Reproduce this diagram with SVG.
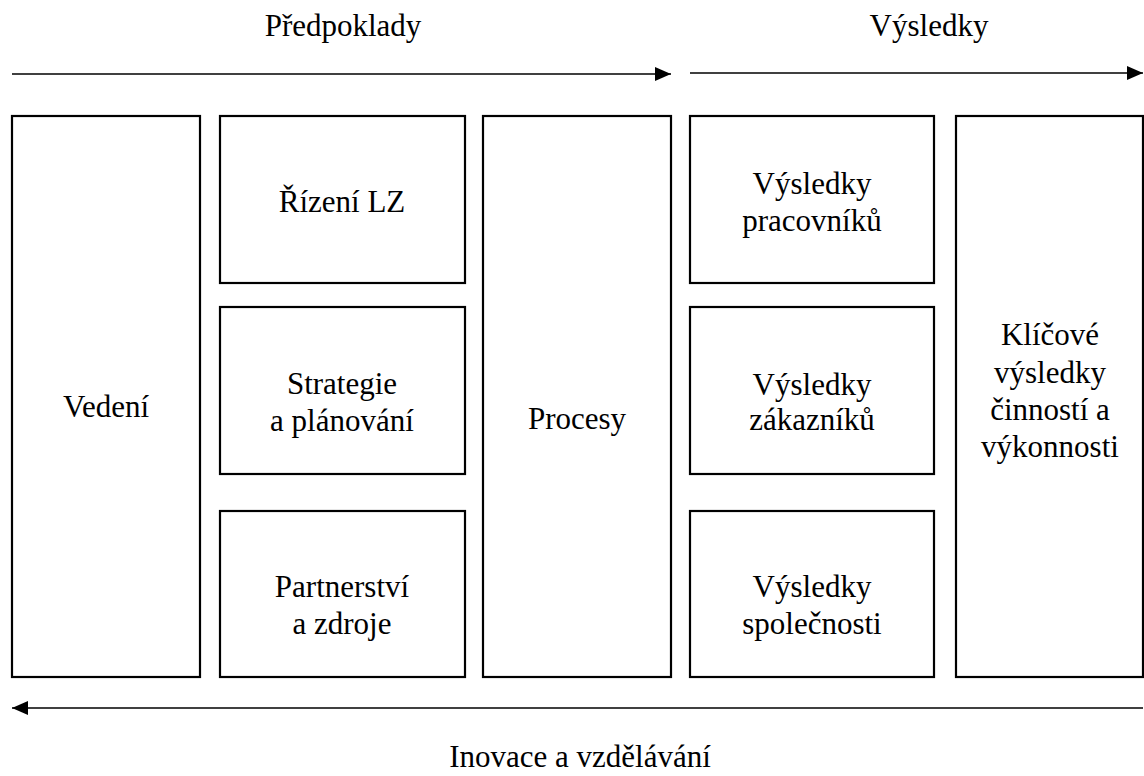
<svg xmlns="http://www.w3.org/2000/svg" width="1144" height="776" viewBox="0 0 1144 776">
  <style>
    .box { fill: #ffffff; stroke: #000000; stroke-width: 2.2; }
    .lbl { font-family: "Liberation Serif", "Times New Roman", serif; font-size: 31px; fill: #000000; text-anchor: middle; }
    .flow { stroke: #000000; stroke-width: 1.4; fill: none; }
  </style>
  <defs>
    <marker id="head" viewBox="0 0 16 14" refX="16" refY="7" markerWidth="16" markerHeight="14" markerUnits="userSpaceOnUse" orient="auto">
      <path d="M0,0 L16,7 L0,14 Z" fill="#000000"/>
    </marker>
  </defs>
  <rect width="1144" height="776" fill="#ffffff"/>

  <!-- section headings and flow arrows -->
  <g id="connectors">
    <line class="flow" x1="12" y1="74" x2="671" y2="74" marker-end="url(#head)"/>
    <line class="flow" x1="690" y1="73" x2="1143" y2="73" marker-end="url(#head)"/>
    <line class="flow" x1="1143" y1="708" x2="12" y2="708" marker-end="url(#head)"/>
  </g>

  <g id="heading-predpoklady"><text class="lbl" x="343" y="36">Předpoklady</text></g>
  <g id="heading-vysledky"><text class="lbl" x="929" y="36">Výsledky</text></g>
  <g id="heading-inovace"><text class="lbl" x="580" y="767">Inovace a vzdělávání</text></g>

  <!-- enablers -->
  <g id="vedeni">
    <rect class="box" x="12" y="116" width="188" height="561"/>
    <text class="lbl" x="106" y="417">Vedení</text>
  </g>
  <g id="rizeni-lz">
    <rect class="box" x="220" y="116" width="245" height="167"/>
    <text class="lbl" x="342" y="212">Řízení LZ</text>
  </g>
  <g id="strategie">
    <rect class="box" x="220" y="307" width="245" height="167"/>
    <text class="lbl" x="342" y="394">Strategie</text>
    <text class="lbl" x="342" y="431">a plánování</text>
  </g>
  <g id="partnerstvi">
    <rect class="box" x="220" y="511" width="245" height="166"/>
    <text class="lbl" x="342" y="597">Partnerství</text>
    <text class="lbl" x="342" y="634">a zdroje</text>
  </g>
  <g id="procesy">
    <rect class="box" x="483" y="116" width="188" height="561"/>
    <text class="lbl" x="577" y="429">Procesy</text>
  </g>

  <!-- results -->
  <g id="vysledky-pracovniku">
    <rect class="box" x="690" y="116" width="244" height="167"/>
    <text class="lbl" x="812" y="194">Výsledky</text>
    <text class="lbl" x="812" y="231">pracovníků</text>
  </g>
  <g id="vysledky-zakazniku">
    <rect class="box" x="690" y="307" width="244" height="167"/>
    <text class="lbl" x="812" y="395">Výsledky</text>
    <text class="lbl" x="812" y="430">zákazníků</text>
  </g>
  <g id="vysledky-spolecnosti">
    <rect class="box" x="690" y="511" width="244" height="166"/>
    <text class="lbl" x="812" y="597">Výsledky</text>
    <text class="lbl" x="812" y="634">společnosti</text>
  </g>
  <g id="klicove-vysledky">
    <rect class="box" x="956" y="116" width="187" height="561"/>
    <text class="lbl" x="1050" y="345">Klíčové</text>
    <text class="lbl" x="1050" y="383">výsledky</text>
    <text class="lbl" x="1050" y="420">činností a</text>
    <text class="lbl" x="1050" y="457">výkonnosti</text>
  </g>
</svg>
